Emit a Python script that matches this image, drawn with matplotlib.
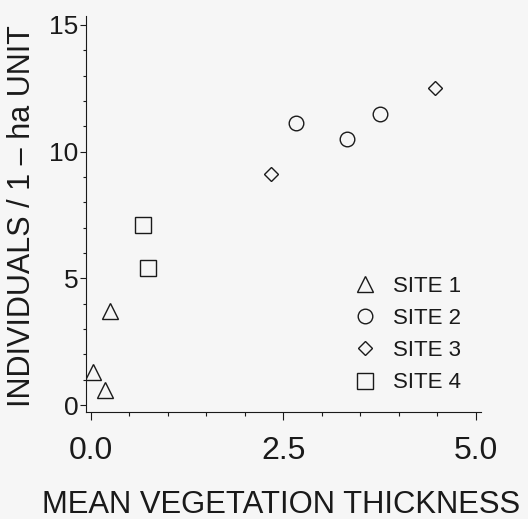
import matplotlib
matplotlib.use("Agg")
import matplotlib.pyplot as plt
from matplotlib.ticker import MultipleLocator, FixedLocator

plt.rcParams["font.family"] = ["Liberation Sans", "DejaVu Sans"]

# Mean vegetation thickness (x) and individuals per 1-ha unit (y) by site
site1_x = [0.02, 0.18, 0.25]
site1_y = [1.3, 0.6, 3.7]
site2_x = [2.67, 3.33, 3.76]
site2_y = [11.15, 10.5, 11.5]
site3_x = [2.34, 4.47]
site3_y = [9.1, 12.5]
site4_x = [0.68, 0.74]
site4_y = [7.1, 5.4]

series_labels = ["SITE 1", "SITE 2", "SITE 3", "SITE 4"]
x_ticks = [0.0, 2.5, 5.0]
x_tick_labels = ["0.0", "2.5", "5.0"]
y_ticks = [0, 5, 10, 15]
y_tick_labels = ["0", "5", "10", "15"]

ink = "#1a1a1a"
paper = "#f6f6f6"

W, H = 528, 519
fig = plt.figure(figsize=(W / 100, H / 100), dpi=100, facecolor=paper)
ax = fig.add_axes([86 / W, (H - 412) / H, (481 - 86) / W, (412 - 16) / H])
ax.set_facecolor(paper)

mk = dict(linestyle="none", markerfacecolor="none", markeredgecolor=ink,
          markeredgewidth=1.0)
ax.plot(site1_x, site1_y, marker="^", markersize=11, label=series_labels[0], **mk)
ax.plot(site2_x, site2_y, marker="o", markersize=10.5, label=series_labels[1], **mk)
ax.plot(site3_x, site3_y, marker="D", markersize=7.2, label=series_labels[2], **mk)
ax.plot(site4_x, site4_y, marker="s", markersize=11, label=series_labels[3], **mk)

ax.set_xlim(-0.065, 5.069)
ax.set_ylim(-0.276, 15.355)

for side in ("top", "right"):
    ax.spines[side].set_visible(False)
for side in ("left", "bottom"):
    ax.spines[side].set_color(ink)
    ax.spines[side].set_linewidth(0.8)

ax.xaxis.set_major_locator(FixedLocator(x_ticks))
ax.set_xticklabels(x_tick_labels)
ax.xaxis.set_minor_locator(MultipleLocator(0.5))
ax.yaxis.set_major_locator(FixedLocator(y_ticks))
ax.set_yticklabels(y_tick_labels)
ax.yaxis.set_minor_locator(MultipleLocator(1))

ax.tick_params(axis="x", which="major", length=6, width=0.8, color=ink,
               labelsize=23, labelcolor=ink, pad=11.5)
ax.tick_params(axis="x", which="minor", length=3, width=0.8, color=ink)
ax.tick_params(axis="y", which="major", length=4.5, width=0.8, color=ink,
               labelsize=19, labelcolor=ink, pad=1)
ax.tick_params(axis="y", which="minor", length=2.2, width=0.8, color=ink)

ax.set_xlabel("MEAN VEGETATION THICKNESS", fontsize=22.3, color=ink)
ax.xaxis.set_label_coords(0.493, -0.198)
ax.set_ylabel("INDIVIDUALS / 1 \u2013 ha UNIT", fontsize=22, color=ink, va="center")
ax.yaxis.set_label_coords((22 - 86) / 395, 0.494)

leg = ax.legend(loc="upper left", bbox_to_anchor=(353.6 / W, 1 - 276 / H),
                bbox_transform=fig.transFigure, frameon=False, numpoints=1,
                fontsize=16, handlelength=1.0, handletextpad=0.77,
                labelspacing=0.5, borderpad=0, borderaxespad=0)
for t in leg.get_texts():
    t.set_color(ink)

fig.savefig("out.png", dpi=100, facecolor=paper)
